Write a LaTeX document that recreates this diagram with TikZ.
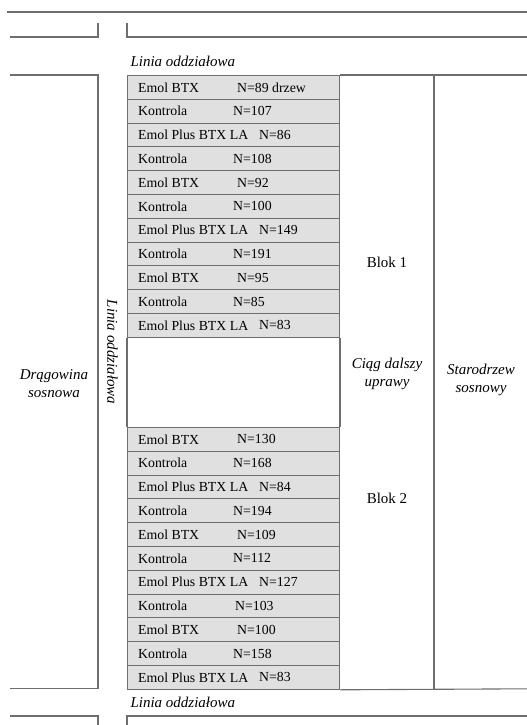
\documentclass[tikz,border=0pt]{standalone}
\usepackage{fontspec}
\setmainfont{Liberation Serif}
\usetikzlibrary{positioning}
\definecolor{linegray}{HTML}{6E6E6E}
\definecolor{cellgray}{HTML}{E0E0E0}

\begin{document}
\begin{tikzpicture}[x=1pt, y=-1pt, node distance=0pt,
  lines/.style={draw=linegray, line width=1.1pt},
  cell/.style={draw=linegray, fill=cellgray, line width=1pt, minimum width=212pt, minimum height=23.8pt, inner sep=0pt, anchor=north west},
  celltext/.style={inner sep=0pt, font=\fontsize{13.8}{16}\selectfont},
  region/.style={font=\fontsize{15}{18}\selectfont\itshape, align=center},
  blok/.style={font=\fontsize{15}{18}\selectfont}]
  \useasboundingbox (0,0) rectangle (527,725);

  % border lines of the plots
  \draw[lines] (7,12) -- (527,12);
  \draw[lines] (10,37) -- (98,37) -- (98,23);
  \draw[lines] (527,37) -- (127,37) -- (127,23);
  \draw[lines] (10,75) -- (98,75) -- (98,688.8) -- (10,688.8);
  \draw[lines] (10,716) -- (98,716) -- (98,725);
  \draw[lines] (527,716) -- (127,716) -- (127,725);

  % block 1
  \foreach \name/\n/\off [count=\i] in {Emol BTX/N=89 drzew/110, Kontrola/N=107/106,
      Emol Plus BTX LA/N=86/132, Kontrola/N=108/106, Emol BTX/N=92/110, Kontrola/N=100/106,
      Emol Plus BTX LA/N=149/132, Kontrola/N=191/106, Emol BTX/N=95/110, Kontrola/N=85/106,
      Emol Plus BTX LA/N=83/132} {
    \node[cell] (r\i) at (127,{75+(\i-1)*23.8}) {};
    \node[celltext, right=11pt of r\i.west] {\name};
    \node[celltext, right=\off pt of r\i.west] {\n};
  }
  % block 2
  \foreach \name/\n/\off [count=\i] in {Emol BTX/N=130/110, Kontrola/N=168/106,
      Emol Plus BTX LA/N=84/132, Kontrola/N=194/106, Emol BTX/N=109/110, Kontrola/N=112/106,
      Emol Plus BTX LA/N=127/132, Kontrola/N=103/108, Emol BTX/N=100/110, Kontrola/N=158/106,
      Emol Plus BTX LA/N=83/132} {
    \node[cell] (s\i) at (127,{427+(\i-1)*23.8}) {};
    \node[celltext, right=11pt of s\i.west] {\name};
    \node[celltext, right=\off pt of s\i.west] {\n};
  }

  \draw[lines] (r11.south west) -- (s1.north west);
  \draw[lines] (r11.south east) -- (s1.north east);
  \draw[lines] (r1.north east) -- (527,75);
  \draw[lines] (s11.south east) -- (527,688.8);
  \draw[lines] (434,75) -- (434,688.8);

  \node[blok] (blok1) at (387,262) {Blok 1};
  \node[blok] (blok2) at (387,498) {Blok 2};
  \node[region] (ciag) at (387,374) {Ciąg dalszy\\uprawy};
  \node[region] (starodrzew) at (481,380) {Starodrzew\\sosnowy};
  \node[region] (dragowina) at (54,384) {Drągowina\\sosnowa};
  \node[region, rotate=-90] (liniaL) at (112.5,352) {Linia oddziałowa};
  \node[region, anchor=west] (liniaT) at (127,61) {Linia oddziałowa};
  \node[region, anchor=west] (liniaB) at (127,702) {Linia oddziałowa};
\end{tikzpicture}
\end{document}
